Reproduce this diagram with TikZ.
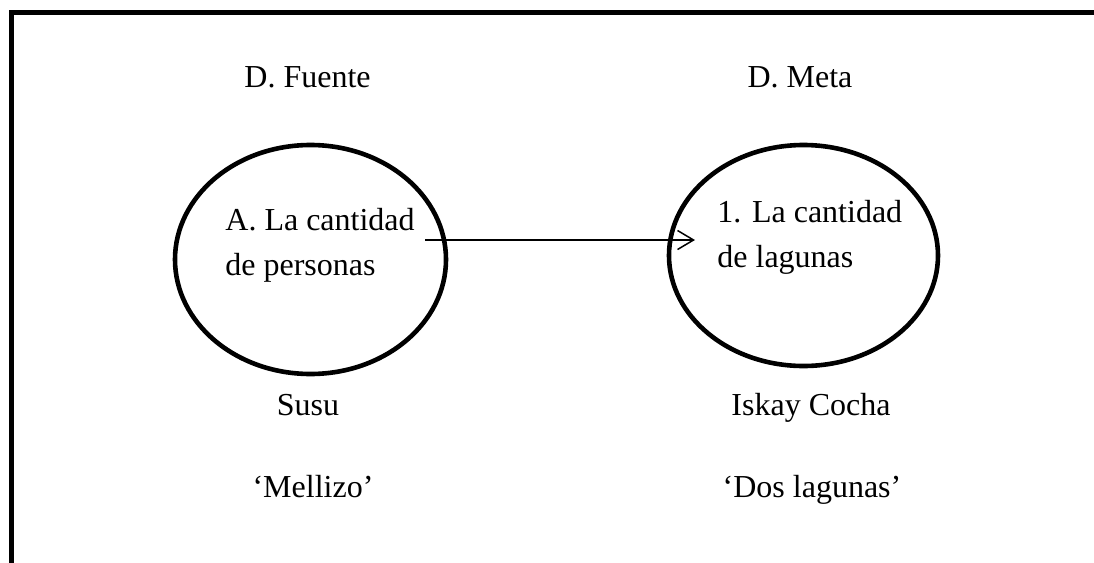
\documentclass[tikz,border=0pt]{standalone}
\usepackage{fontspec}
\setmainfont{Liberation Serif}
\usetikzlibrary{shapes.geometric,arrows.meta}
\def\lw{2.3pt}
\def\txt{\fontsize{16}{22.5}\selectfont}
\tikzset{
	word/.style={font=\txt, inner sep=0pt, anchor=base},
	domainnode/.style={ellipse, draw, line width=\lw, inner sep=0pt},
}

\begin{document}
\begin{tikzpicture}[x=0.5pt,y=-0.5pt]
\useasboundingbox (0,0) rectangle (1094,563);
\coordinate (BL) at (11,563);
\coordinate (TL) at (11,12);
\coordinate (TR) at (1100,12);
\coordinate (S) at (425,240);
\coordinate (T) at (695,240);

% frame
\draw[line width=2.5pt] (BL) -- (TL) -- (TR);

% the two domains
\node[domainnode, minimum width=135.5pt, minimum height=114.5pt] (fuente) at (310.5,259.5) {};
\node[domainnode, minimum width=134.5pt, minimum height=110.5pt] (meta) at (803.5,255.5) {};

% base is the last line
\node[word, anchor=base west, align=left] (fuenteIn) at (225,275) {A. La cantidad\\de personas};
\node[word, anchor=base west, align=left] (metaIn) at (717,267) {1. La cantidad\\de lagunas};

\draw[line width=0.75pt, -{Straight Barb[length=8pt,width=9.5pt]}] (S) -- (T);

% labels
\node[word] (fuenteTop) at (307.5,87) {D. Fuente};
\node[word] (metaTop) at (800,87) {D. Meta};
\node[word] (susu) at (308,415) {Susu};
\node[word] (iskay) at (811,415) {Iskay Cocha};
\node[word] (mellizo) at (313,497) {‘Mellizo’};
\node[word] (lagunas) at (812,497) {‘Dos lagunas’};
\end{tikzpicture}
\end{document}
